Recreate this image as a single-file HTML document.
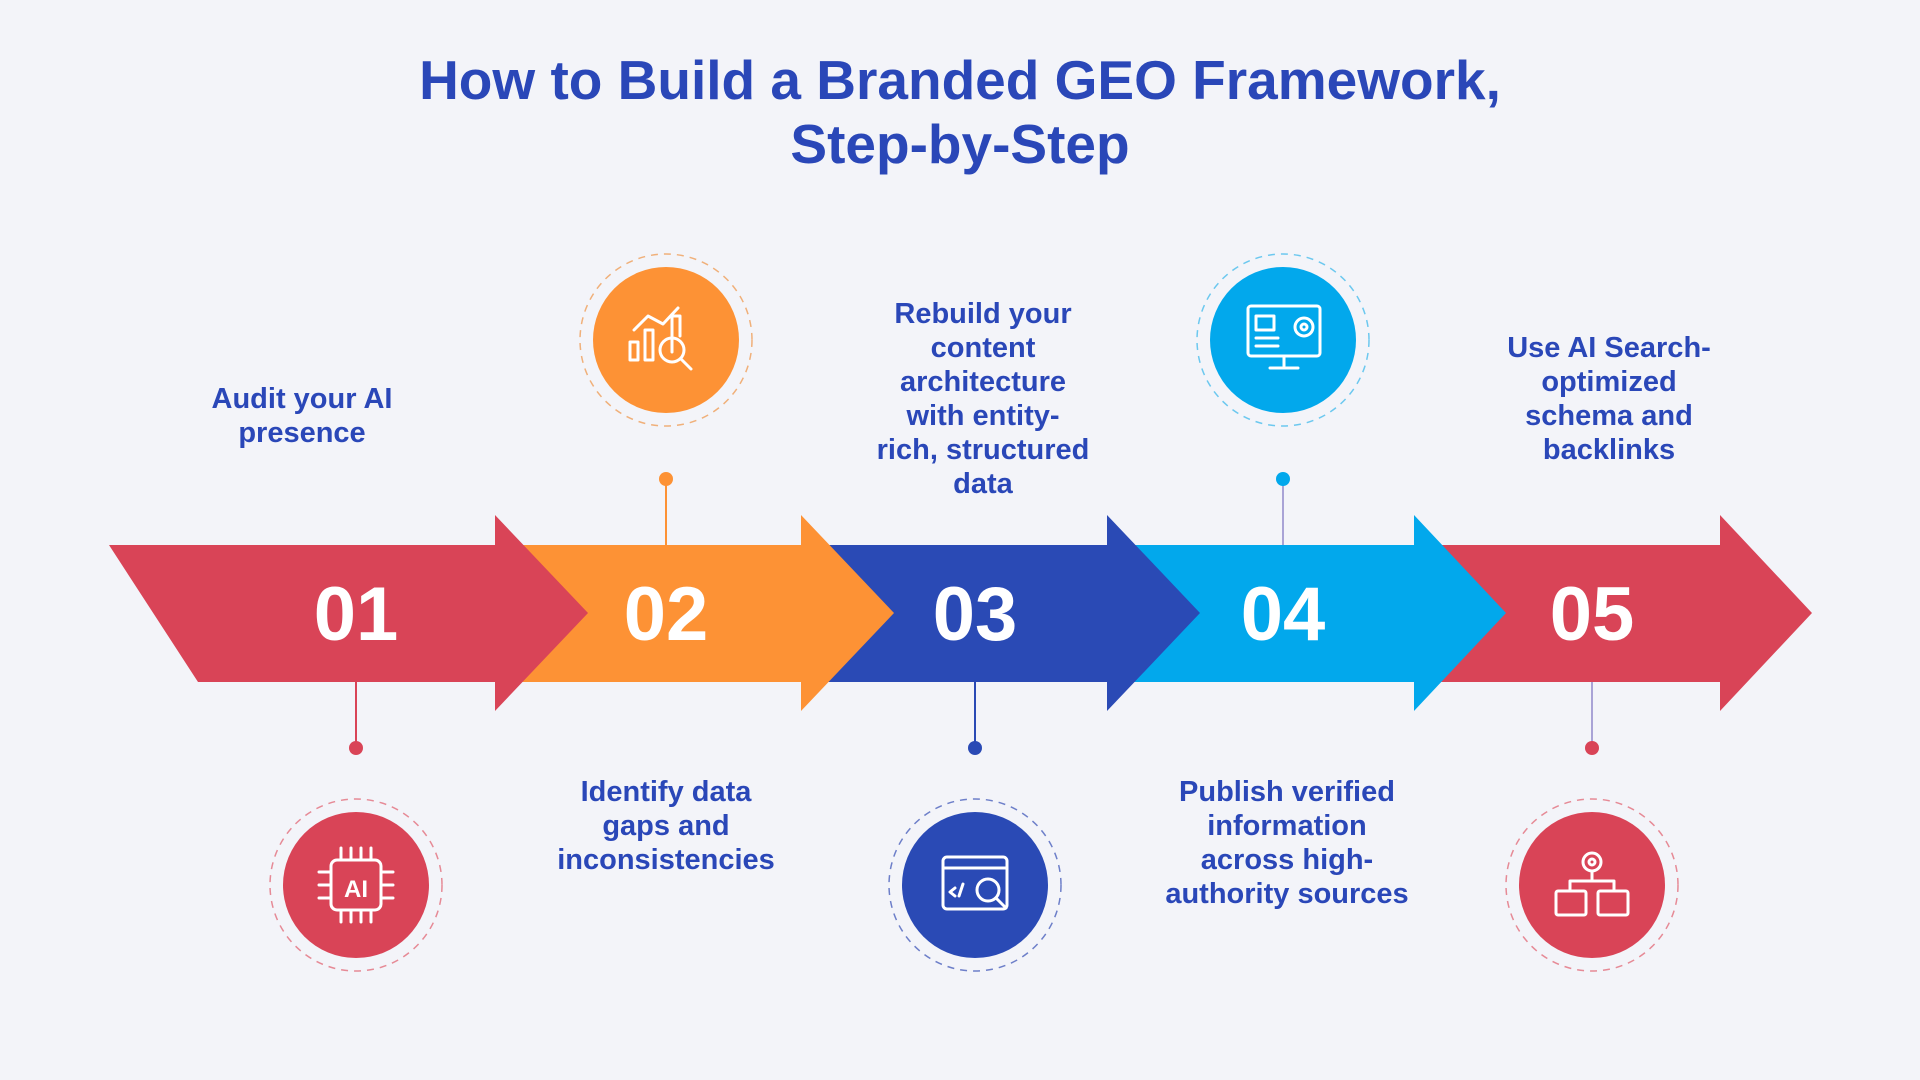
<!DOCTYPE html>
<html><head><meta charset="utf-8"><style>
body{margin:0;width:1920px;height:1080px;background:#f3f4f9;overflow:hidden;font-family:"Liberation Sans",sans-serif}
.t{position:absolute;left:0;width:1920px;text-align:center;color:#2a47b8;font-weight:bold;font-size:55px;line-height:64px;top:48px}
.l{position:absolute;color:#2a47b8;font-weight:bold;font-size:29px;line-height:34px;text-align:center;width:400px;white-space:nowrap}
</style></head><body>
<div class="t">How to Build a Branded GEO Framework,<br>Step-by-Step</div>
<svg width="1920" height="1080" style="position:absolute;left:0;top:0">
<g>
<polygon points="1414,545 1720,545 1720,515 1812,613 1720,711 1720,682 1414,682" fill="#d94457"/>
<polygon points="1107,545 1414,545 1414,515 1506,613 1414,711 1414,682 1107,682" fill="#02a8ec"/>
<polygon points="801,545 1107,545 1107,515 1200,613 1107,711 1107,682 801,682" fill="#2a4ab5"/>
<polygon points="495,545 801,545 801,515 894,613 801,711 801,682 495,682" fill="#fd9235"/>
<polygon points="109,545 495,545 495,515 588,613 495,711 495,682 198,682" fill="#d94457"/>
</g>
<g fill="#fff" font-family="Liberation Sans" font-weight="bold" font-size="76" text-anchor="middle">
<text x="356" y="640">01</text><text x="666" y="640">02</text><text x="975" y="640">03</text><text x="1283" y="640">04</text><text x="1592" y="640">05</text>
</g>
<g stroke-width="2">
<line x1="356" y1="682" x2="356" y2="748" stroke="#d94457"/><circle cx="356" cy="748" r="7" fill="#d94457"/>
<line x1="666" y1="479" x2="666" y2="545" stroke="#fd9235"/><circle cx="666" cy="479" r="7" fill="#fd9235"/>
<line x1="975" y1="682" x2="975" y2="748" stroke="#2a4ab5"/><circle cx="975" cy="748" r="7" fill="#2a4ab5"/>
<line x1="1283" y1="479" x2="1283" y2="545" stroke="#a9a3d6"/><circle cx="1283" cy="479" r="7" fill="#02a8ec"/>
<line x1="1592" y1="682" x2="1592" y2="748" stroke="#a9a3d6"/><circle cx="1592" cy="748" r="7" fill="#d94457"/>
</g>
<g fill="none" stroke-width="1.5" stroke-dasharray="7 6">
<circle cx="356" cy="885" r="86" stroke="#e68a96"/>
<circle cx="666" cy="340" r="86" stroke="#f0b07a"/>
<circle cx="975" cy="885" r="86" stroke="#6d7fc9"/>
<circle cx="1283" cy="340" r="86" stroke="#6cc8ef"/>
<circle cx="1592" cy="885" r="86" stroke="#e68a96"/>
</g>
<circle cx="356" cy="885" r="73" fill="#d94457"/>
<circle cx="666" cy="340" r="73" fill="#fd9235"/>
<circle cx="975" cy="885" r="73" fill="#2a4ab5"/>
<circle cx="1283" cy="340" r="73" fill="#02a8ec"/>
<circle cx="1592" cy="885" r="73" fill="#d94457"/>
<g fill="none" stroke="#fff" stroke-width="3" stroke-linecap="round" stroke-linejoin="round">
<rect x="331" y="860" width="50" height="50" rx="6"/>
<path d="M341 860v-12M351 860v-12M361 860v-12M371 860v-12M341 910v12M351 910v12M361 910v12M371 910v12M331 872h-12M331 885h-12M331 898h-12M381 872h12M381 885h12M381 898h12"/>
<path d="M630 360v-18h8v18zM645 360v-30h8v30zM672 352v-36h8v20"/>
<polyline points="634,330 648,316 663,324 678,308"/>
<circle cx="672" cy="350" r="12"/><path d="M681 359l10 10"/>
<rect x="943" y="857" width="64" height="52" rx="4"/><path d="M943 868h64"/>
<circle cx="988" cy="890" r="11"/><path d="M996 898l10 10M955 888l-5 4 5 4M963 884l-4 12"/>
<rect x="1248" y="306" width="72" height="50" rx="3"/><path d="M1284 356v10M1270 368h28M1256 316h18v14h-18zM1256 338h22M1256 346h22"/>
<circle cx="1304" cy="327" r="9"/><circle cx="1304" cy="327" r="3"/>
<circle cx="1592" cy="862" r="9"/><circle cx="1592" cy="862" r="3"/>
<path d="M1592 871v10M1570 881h44M1570 881v8M1614 881v8"/>
<rect x="1556" y="891" width="30" height="24" rx="2"/><rect x="1598" y="891" width="30" height="24" rx="2"/>
</g>
<text x="356" y="897" fill="#fff" font-family="Liberation Sans" font-weight="bold" font-size="24" text-anchor="middle">AI</text>
</svg>
<div class="l" style="left:102px;top:382px">Audit your AI<br>presence</div>
<div class="l" style="left:466px;top:775px">Identify data<br>gaps and<br>inconsistencies</div>
<div class="l" style="left:783px;top:297px">Rebuild your<br>content<br>architecture<br>with entity-<br>rich, structured<br>data</div>
<div class="l" style="left:1087px;top:775px">Publish verified<br>information<br>across high-<br>authority sources</div>
<div class="l" style="left:1409px;top:331px">Use AI Search-<br>optimized<br>schema and<br>backlinks</div>
</body></html>
